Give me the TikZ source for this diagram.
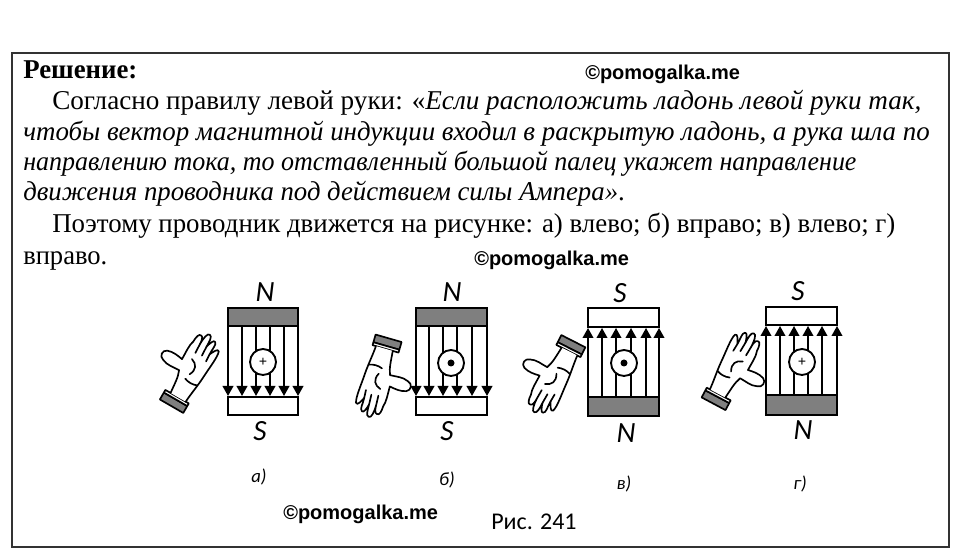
\documentclass[tikz,border=0pt]{standalone}
\usepackage{fontspec}
\setmainfont{Liberation Serif}
\newfontfamily\markfont{Liberation Sans}
\newfontfamily\labelfont{Carlito}
\usetikzlibrary{arrows.meta}
\definecolor{polegray}{HTML}{7F7F7F}
\tikzset{
  >={Triangle[length=7.5pt,width=8pt]},
  textline/.style={anchor=base west, inner sep=0pt, font=\fontsize{20.4}{24}\selectfont},
  watermark/.style={anchor=base west, inner sep=0pt, font=\markfont\bfseries\fontsize{15}{16}\selectfont},
  polename/.style={inner sep=0pt, font=\labelfont\itshape\fontsize{22}{24}\selectfont},
  panelname/.style={inner sep=0pt, font=\labelfont\itshape\fontsize{14}{16}\selectfont},
  pole/.style={draw, line width=1.6pt},
  fieldline/.style={line width=1.3pt},
  wire/.style={circle, draw, fill=white, line width=1.4pt, minimum size=19.5pt, inner sep=0pt},
  handline/.style={line width=1.25pt, line join=round, line cap=round},
  hand/.pic={
    \draw[handline, fill=polegray] (-14,-4) -- (13,-4) -- (13,4) -- (-14,4) -- cycle;
    \draw[handline, fill=white] (-14,4) -- (13,4) -- (13,7) -- (-14,7) -- cycle;
    % outline from the wrist round the thumb and the fingers
    \draw[handline, fill=white] (-8,7) .. controls (-9,16) and (-9,24) .. (-12,31)
      .. controls (-18,31) and (-25,29) .. (-31,32)
      .. controls (-36,33) and (-37,40) .. (-32,42)
      .. controls (-26,44) and (-21,43) .. (-15,42)
      .. controls (-15,50) and (-16,58) .. (-14,63)
      .. controls (-14,68) and (-13,73) .. (-10,72)
      .. controls (-8,72) and (-7,68) .. (-7,64)
      .. controls (-7,70) and (-6,78) .. (-3,77)
      .. controls (0,77) and (0,70) .. (0,65)
      .. controls (1,69) and (3,75) .. (5,73.5)
      .. controls (8,72) and (6,66) .. (6.5,60)
      .. controls (8,63) and (11,70) .. (13,67)
      .. controls (15,62) and (13,48) .. (12.5,37)
      .. controls (12,27) and (10,16) .. (9.5,7);
    \draw[handline] (-7,64) -- (-6.5,54) (0,65) -- (0.5,55) (6.5,60) -- (7,52);
    \draw[handline] (-6.4,47) .. controls (0,45) and (3,40) .. (-0.8,32.7);
    \draw[handline] (-2.4,26.7) .. controls (2,25) and (7,25) .. (11.2,26.8);
  },
}
\begin{document}
\begin{tikzpicture}[x=0.75pt,y=0.75pt]
  \useasboundingbox (0,0) rectangle (960,560);
  \fill[white] (0,0) rectangle (960,560);
  \draw[line width=1.5pt, black!80] (12,13) rectangle (949,507);
  % text
  \node[textline, font=\bfseries\fontsize{20.4}{24}\selectfont] (head) at (23,481) {\scalebox{.985}[1]{Решение:}};
  \node[textline] (l1) at (52,450) {\scalebox{.998}[1]{Согласно правилу левой руки: «\textit{Если расположить ладонь левой руки так,}}};
  \node[textline] (l2) at (23,419) {\scalebox{.989}[1]{\textit{чтобы вектор магнитной индукции входил в раскрытую ладонь, а рука шла по}}};
  \node[textline] (l3) at (23,389) {\scalebox{.955}[1]{\textit{направлению тока, то отставленный большой палец укажет направление}}};
  \node[textline] (l4) at (23,359) {\scalebox{.984}[1]{\textit{движения проводника под действием силы Ампера»}.}};
  \node[textline] (l5) at (52,327) {\scalebox{.988}[1]{Поэтому проводник движется на рисунке: а) влево; б) вправо; в) влево; г)}};
  \node[textline] (l6) at (23,295) {\scalebox{.976}[1]{вправо.}};
  \node[watermark] (mark1) at (585,480) {©pomogalka.me};
  \node[watermark] (mark2) at (474,294) {©pomogalka.me};
  \node[watermark] (mark3) at (283,40) {©pomogalka.me};
  \node[anchor=base west, inner sep=0pt, font=\labelfont\fontsize{18}{20}\selectfont] (fig) at (491,30) {Рис. 241};
  % a)
  \foreach \x in {228,242,256,270,284,298}
    \draw[fieldline, ->] (\x,234) -- (\x,164);
  \draw[pole, fill=polegray] (228,234) rectangle (298,252);
  \draw[pole, fill=white] (228,145) rectangle (298,163);
  \node[wire] (cura) at (263,198) {\fontsize{11}{11}\selectfont\bfseries+};
  \node[polename] (na) at (265,268) {N};
  \node[polename] (sa) at (260,129) {S};
  \node[panelname] (pa) at (259,83) {а)};
  \pic at (174,157) [rotate=-30] {hand};
  % b)
  \foreach \x in {416,429,443,457,472,487}
    \draw[fieldline, ->] (\x,234) -- (\x,164);
  \draw[pole, fill=polegray] (416,234) rectangle (487,252);
  \draw[pole, fill=white] (416,145) rectangle (487,163);
  \node[wire] (curb) at (451,197) {};
  \fill (curb) circle (3.5);
  \node[polename] (nb) at (452,268) {N};
  \node[polename] (sb) at (447,129) {S};
  \node[panelname] (pb) at (447,80) {б)};
  \pic at (387,218) [rotate=164] {hand};
  % c)
  \foreach \x in {588,602,616,631,646,659}
    \draw[fieldline, ->] (\x,163) -- (\x,232);
  \draw[pole, fill=polegray] (588,144) rectangle (659,163);
  \draw[pole, fill=white] (588,233) rectangle (659,252);
  \node[wire] (curc) at (624,197) {};
  \fill (curc) circle (3.5);
  \node[polename] (nc) at (626,127) {N};
  \node[polename] (sc) at (620,267) {S};
  \node[panelname] (pc) at (624,76) {в)};
  \pic at (572,215) [rotate=153, xscale=-1] {hand};
  % d)
  \foreach \x in {766,780,794,808,822,837}
    \draw[fieldline, ->] (\x,165) -- (\x,234);
  \draw[pole, fill=polegray] (766,145) rectangle (837,165);
  \draw[pole, fill=white] (766,235) rectangle (837,253);
  \node[wire] (curd) at (802,198) {\fontsize{11}{11}\selectfont\bfseries+};
  \node[polename] (nd) at (803,130) {N};
  \node[polename] (sd) at (798,269) {S};
  \node[panelname] (pd) at (800,76) {г)};
  \pic at (715,160) [rotate=-28, xscale=-1] {hand};
\end{tikzpicture}
\end{document}
